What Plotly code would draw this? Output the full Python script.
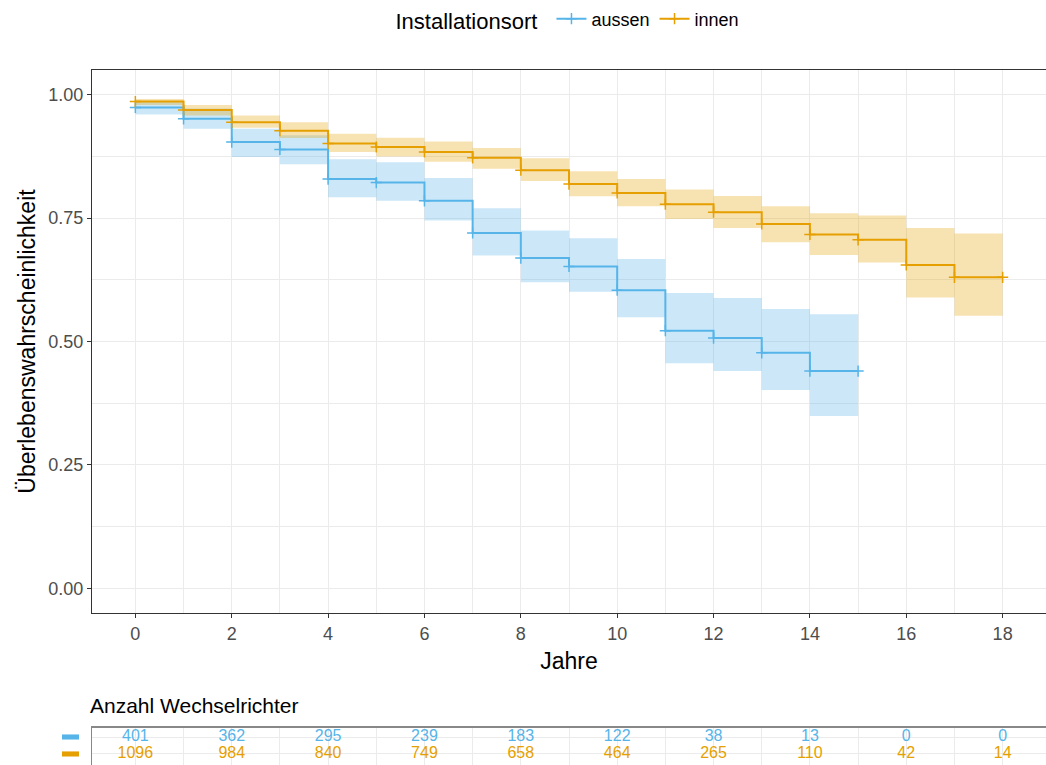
import plotly.graph_objects as go

# ---------------- data ----------------
time_aussen = list(range(0, 16))      # 0..15
surv_aussen = [0.974, 0.951, 0.904, 0.889, 0.829, 0.822, 0.785, 0.720, 0.669, 0.652,
               0.604, 0.522, 0.507, 0.477, 0.440]
upper_aussen = [0.986, 0.972, 0.931, 0.918, 0.869, 0.863, 0.831, 0.770, 0.725, 0.709,
                0.667, 0.598, 0.588, 0.566, 0.555]
lower_aussen = [0.960, 0.931, 0.874, 0.859, 0.792, 0.785, 0.745, 0.674, 0.620, 0.601,
                0.549, 0.456, 0.440, 0.402, 0.349]

time_innen = list(range(0, 19))       # 0..18
surv_innen = [0.986, 0.969, 0.944, 0.927, 0.901, 0.894, 0.884, 0.872, 0.847, 0.819,
              0.801, 0.778, 0.762, 0.738, 0.717, 0.706, 0.655, 0.630]
upper_innen = [0.991, 0.979, 0.958, 0.944, 0.921, 0.913, 0.905, 0.892, 0.871, 0.845,
               0.829, 0.808, 0.795, 0.774, 0.760, 0.755, 0.730, 0.719]
lower_innen = [0.979, 0.958, 0.933, 0.912, 0.884, 0.875, 0.864, 0.850, 0.825, 0.794,
               0.774, 0.748, 0.730, 0.701, 0.675, 0.660, 0.589, 0.552]

risk_times = [0, 2, 4, 6, 8, 10, 12, 14, 16, 18]
risk_aussen = [401, 362, 295, 239, 183, 122, 38, 13, 0, 0]
risk_innen = [1096, 984, 840, 749, 658, 464, 265, 110, 42, 14]

groups = ["aussen", "innen"]
col_aussen = "#56B4E9"
col_innen = "#E69F00"
band_aussen = "rgba(86,180,233,0.3)"
band_innen = "rgba(230,159,0,0.3)"

FONT = "Liberation Sans, Arial, sans-serif"
W, H = 1046, 765
M_T, M_L = 70, 92
plot_h = H - M_T
plot_w = W - M_L

def ext(v):
    return list(v) + [v[-1]]

fig = go.Figure()

series = [
    ("aussen", time_aussen, surv_aussen, upper_aussen, lower_aussen, col_aussen, band_aussen),
    ("innen", time_innen, surv_innen, upper_innen, lower_innen, col_innen, band_innen),
]

# ribbons
for name, t, s, up, lo, col, band in series:
    fig.add_trace(go.Scatter(x=t, y=ext(up), mode="lines", line=dict(width=0, shape="hv"),
                             showlegend=False, hoverinfo="skip", xaxis="x", yaxis="y"))
    fig.add_trace(go.Scatter(x=t, y=ext(lo), mode="lines", line=dict(width=0, shape="hv"),
                             fill="tonexty", fillcolor=band,
                             showlegend=False, hoverinfo="skip", xaxis="x", yaxis="y"))

# curves
for name, t, s, up, lo, col, band in series:
    fig.add_trace(go.Scatter(x=t, y=ext(s), mode="lines+markers", name=name,
                             line=dict(color=col, width=2, shape="hv"),
                             marker=dict(symbol="cross-thin", size=8,
                                         line=dict(color=col, width=1.5)),
                             xaxis="x", yaxis="y"))

# risk table
table_rows = [(1, risk_aussen, col_aussen), (0, risk_innen, col_innen)]
for yv, counts, col in table_rows:
    fig.add_trace(go.Scatter(x=risk_times, y=[yv] * len(risk_times), mode="text",
                             text=[str(c) for c in counts],
                             textfont=dict(color=col, size=16, family=FONT),
                             showlegend=False, hoverinfo="skip",
                             xaxis="x2", yaxis="y2"))

main_bottom = (H - 613) / plot_h
table_top = (H - 728) / plot_h

grid_major = "#EBEBEB"
xcommon = dict(range=[-0.9, 18.9], tick0=0, dtick=2, showgrid=True,
               gridcolor=grid_major, gridwidth=1.2, zeroline=False,
               minor=dict(dtick=1, tick0=0, showgrid=True, gridcolor=grid_major, gridwidth=0.6,
                          ticklen=0))

annotations = [dict(text="Anzahl Wechselrichter", xref="paper", yref="paper",
                    x=-0.004, y=(H - 705) / plot_h, xanchor="left", yanchor="middle",
                    showarrow=False, font=dict(size=21, family=FONT, color="black"))]

# colored row keys of the risk table (legend-like decoration)
shapes = []
for yv, counts, col in table_rows:
    shapes.append(dict(type="rect", xref="paper", yref="y2",
                       x0=(62 - M_L) / plot_w, x1=(79 - M_L) / plot_w,
                       y0=yv - 0.15, y1=yv + 0.15,
                       fillcolor=col, line=dict(width=0), layer="above"))

fig.update_layout(
    width=W, height=H,
    margin=dict(l=M_L, r=0, t=M_T, b=0),
    paper_bgcolor="white", plot_bgcolor="white",
    font=dict(family=FONT, color="black"),
    xaxis=dict(**xcommon, domain=[0, 1], anchor="y",
               showline=True, mirror=True, linecolor="#333333", linewidth=1.2,
               ticks="outside", ticklen=4, tickcolor="#333333", tickwidth=1.2,
               tickfont=dict(size=18, color="#4D4D4D", family=FONT),
               title=dict(text="Jahre", font=dict(size=23, family=FONT, color="black"), standoff=10)),
    yaxis=dict(domain=[main_bottom, 1], range=[-0.05, 1.05], anchor="x",
               tickvals=[0, 0.25, 0.5, 0.75, 1.0], ticktext=["0.00", "0.25", "0.50", "0.75", "1.00"],
               showgrid=True, gridcolor=grid_major, gridwidth=1.2, zeroline=False,
               minor=dict(tickvals=[0.125, 0.375, 0.625, 0.875], showgrid=True,
                          gridcolor=grid_major, gridwidth=0.6, ticklen=0),
               showline=True, mirror=True, linecolor="#333333", linewidth=1.2,
               ticks="outside", ticklen=4, tickcolor="#333333", tickwidth=1.2,
               tickfont=dict(size=18, color="#4D4D4D", family=FONT),
               title=dict(text="Überlebenswahrscheinlichkeit",
                          font=dict(size=23, family=FONT, color="black"), standoff=6)),
    xaxis2=dict(**xcommon, domain=[0, 1], anchor="y2", side="top",
                showticklabels=False, ticks="",
                showline=True, linecolor="#888888", linewidth=1.6),
    yaxis2=dict(domain=[0, table_top], range=[-0.65, 1.53], anchor="x2",
                tickvals=[1, 0], showticklabels=False, ticks="",
                showgrid=True, gridcolor=grid_major, gridwidth=1.2, zeroline=False,
                showline=True, linecolor="#888888", linewidth=1.2),
    legend=dict(orientation="h", x=0.5, xanchor="center", y=1 + (M_T - 20) / plot_h,
                yanchor="middle", traceorder="normal",
                title=dict(text="Installationsort ", font=dict(size=22, family=FONT, color="black")),
                font=dict(size=18, family=FONT, color="black"),
                itemwidth=30, bgcolor="rgba(0,0,0,0)"),
    annotations=annotations,
    shapes=shapes,
    showlegend=True,
)

fig.write_html("out.html")
